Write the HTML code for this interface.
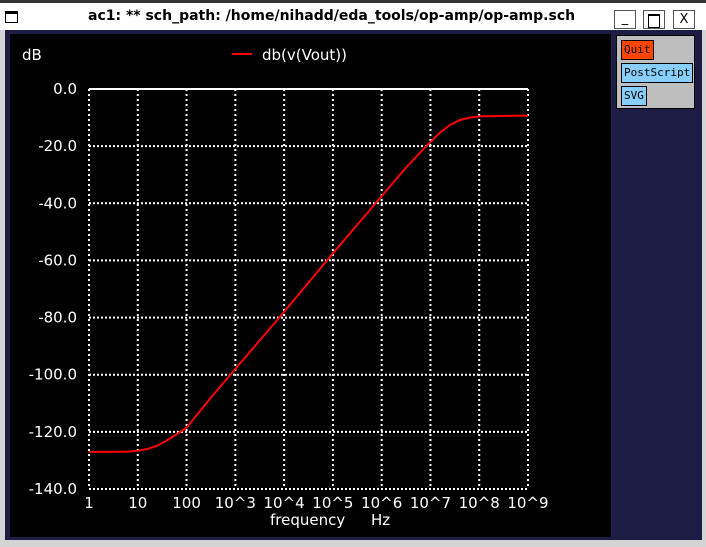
<!DOCTYPE html>
<html><head><meta charset="utf-8"><style>
body{margin:0;width:706px;height:547px;overflow:hidden;background:#d4d4d4;font-family:"DejaVu Sans","Liberation Sans",sans-serif;}
.btn{position:absolute;font-family:"DejaVu Sans Mono","Liberation Mono",monospace;font-size:11px;border:1px solid #000;padding:0 2px;height:18px;line-height:18px;}
</style></head><body>
<div style="position:absolute;left:0;top:0;width:706px;height:30px;background:#fff;border-top:3px solid #333;box-sizing:border-box;">
<div style="position:absolute;left:5px;top:8px;width:13px;height:12px;border:1px solid #000;border-top:3px solid #000;box-sizing:border-box"></div>
<div style="position:absolute;left:88px;top:5px;font-size:14px;font-weight:bold;color:#000">ac1: ** sch_path: /home/nihadd/eda_tools/op-amp/op-amp.sch</div>
<div style="position:absolute;left:614px;top:7px;width:22px;height:19px;border:1px solid #555;box-sizing:border-box;text-align:center;font-size:13px;line-height:16px">_</div>
<div style="position:absolute;left:643px;top:7px;width:22px;height:19px;border:1px solid #555;box-sizing:border-box"><div style="margin:3px 4px;height:11px;border:1px solid #000;border-top:2px solid #000"></div></div>
<div style="position:absolute;left:673px;top:7px;width:22px;height:19px;border:1px solid #555;box-sizing:border-box;text-align:center;font-size:13px;line-height:17px">X</div>
</div>
<div style="position:absolute;left:5px;top:30px;width:697px;height:510px;background:#1c1c44"></div>
<div style="position:absolute;left:616px;top:35px;width:79px;height:74px;background:#bebebe;border:1px solid #000;box-sizing:border-box"></div>
<div class="btn" style="left:621px;top:40px;background:#ff4500">Quit</div>
<div class="btn" style="left:621px;top:63px;background:#87cefa">PostScript</div>
<div class="btn" style="left:621px;top:86px;background:#87cefa">SVG</div>
<svg style="position:absolute;left:0;top:0" width="706" height="547">
<rect x="10" y="34" width="601" height="503" fill="#000"/>
<g id="grid"></g><g id="labels"></g>
<text x="22" y="60" fill="#fff" font-size="15" font-family="DejaVu Sans,sans-serif">dB</text>
<line x1="232" y1="54" x2="252" y2="54" stroke="#f00" stroke-width="2"/>
<text x="262" y="60" fill="#fff" font-size="15" font-family="DejaVu Sans,sans-serif">db(v(Vout))</text>
<text x="270" y="525" fill="#fff" font-size="15" font-family="DejaVu Sans,sans-serif">frequency</text>
<text x="371" y="525" fill="#fff" font-size="15" font-family="DejaVu Sans,sans-serif">Hz</text>
<path id="curve" fill="none" stroke="#f00" stroke-width="2"/>
</svg>
<script>
const xTicks=["1","10","100","10^3","10^4","10^5","10^6","10^7","10^8","10^9"];
const yTicks=[0,-20,-40,-60,-80,-100,-120,-140];
const freqLog=[0,0.5,0.8,1,1.2,1.4,1.6,1.8,2,2.5,3,4,5,6,6.5,6.8,7,7.2,7.4,7.6,7.8,8,8.5,9];
const dbValues=[-127,-127,-126.9,-126.6,-126,-124.8,-123,-120.8,-118.5,-108,-98,-78,-57.5,-37.5,-27.5,-22,-18.5,-15.2,-12.6,-10.9,-10,-9.6,-9.4,-9.3];
const X0=89,X1=528,Y0=89,Y1=489;
const xs=l=>X0+(X1-X0)*l/9, ys=v=>Y0+(Y1-Y0)*(-v)/140;
const ns="http://www.w3.org/2000/svg";
const g=document.getElementById('grid'),lb=document.getElementById('labels');
function mk(t,a,p){const e=document.createElementNS(ns,t);for(const k in a)e.setAttribute(k,a[k]);p.appendChild(e);return e;}
xTicks.forEach((t,i)=>{const x=xs(i);
const l=mk('line',{x1:x,y1:Y0,x2:x,y2:Y1,stroke:'#fff','stroke-width':2,'stroke-dasharray':'2,3'},g);


const tx=mk('text',{x:x,y:508,fill:'#fff','font-size':15,'text-anchor':'middle','font-family':'DejaVu Sans,sans-serif'},lb);tx.textContent=t;

});
yTicks.forEach(v=>{const y=ys(v);
const l=mk('line',{x1:X0,y1:y,x2:X1,y2:y,stroke:'#fff','stroke-width':2,'stroke-dasharray':v===0?'none':'2,2'},g);


const tx=mk('text',{x:77,y:y+5,fill:'#fff','font-size':15,'text-anchor':'end','font-family':'DejaVu Sans,sans-serif'},lb);tx.textContent=v.toFixed(1);

});
document.getElementById('curve').setAttribute('d',freqLog.map((l,i)=>(i?'L':'M')+xs(l).toFixed(1)+','+ys(dbValues[i]).toFixed(1)).join(''));
</script>
</body></html>
